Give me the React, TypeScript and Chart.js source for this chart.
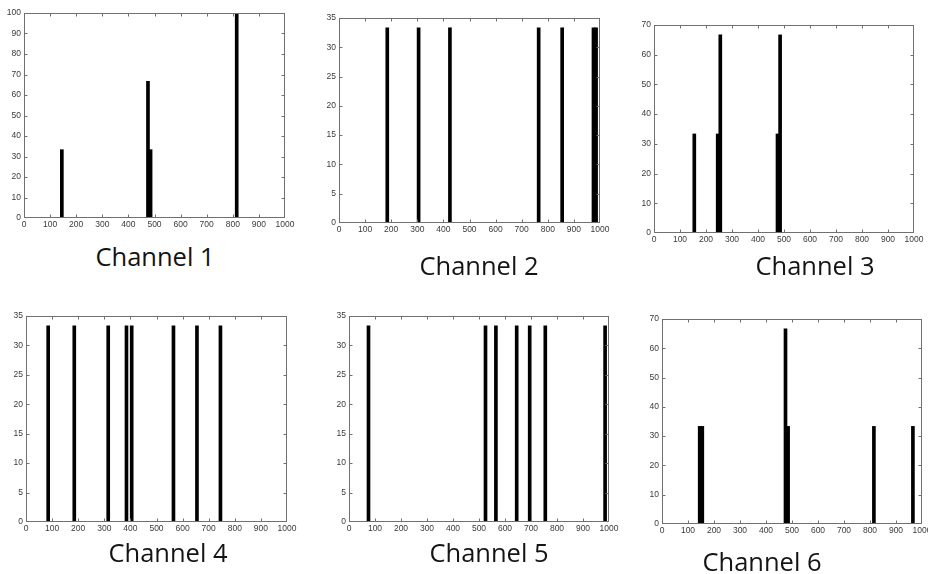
import React, { useEffect, useRef } from "react";
import { Chart, registerables } from "chart.js";

Chart.register(...registerables);

// ---- data (bin centres on a 0..1000 axis, bar heights in %) ----
const xTickMin = 0;
const xTickMax = 1000;
const xTickStep = 100;

const ch1X = [145, 475, 485, 815];
const ch1Y = [33.33, 66.67, 33.33, 100];

const ch2X = [185, 305, 425, 765, 855, 975, 985];
const ch2Y = [33.33, 33.33, 33.33, 33.33, 33.33, 33.33, 33.33];

const ch3X = [155, 245, 255, 475, 485];
const ch3Y = [33.33, 33.33, 66.67, 33.33, 66.67];

const ch4X = [85, 185, 315, 385, 405, 565, 655, 745];
const ch4Y = [33.33, 33.33, 33.33, 33.33, 33.33, 33.33, 33.33, 33.33];

const ch5X = [75, 525, 565, 645, 695, 755, 985];
const ch5Y = [33.33, 33.33, 33.33, 33.33, 33.33, 33.33, 33.33];

const ch6X = [145, 155, 475, 485, 815, 965];
const ch6Y = [33.33, 33.33, 66.67, 33.33, 33.33, 33.33];

const yMaxes = [100, 35, 70, 35, 35, 70];
const ySteps = [10, 5, 10, 5, 5, 10];
const captions = ["Channel 1", "Channel 2", "Channel 3", "Channel 4", "Channel 5", "Channel 6"];

// ---- layout (plot area rectangles and caption centres) ----
const plotRects = [
  { l: 24, t: 13, r: 285, b: 218 },
  { l: 339, t: 18, r: 600, b: 223 },
  { l: 654, t: 25, r: 914, b: 233 },
  { l: 26, t: 316, r: 287, b: 522 },
  { l: 349, t: 316, r: 609, b: 522 },
  { l: 662, t: 319, r: 922, b: 524 },
];
const captionPos = [
  { x: 155, y: 257 },
  { x: 479, y: 266 },
  { x: 815, y: 266 },
  { x: 168, y: 553 },
  { x: 489, y: 553 },
  { x: 762, y: 562 },
];

const PAD_L = 30;
const PAD_T = 8;
const PAD_R = 16;
const PAD_B = 16;

const tickFont = { family: "'Liberation Sans', Arial, sans-serif", size: 8.5 };
const tickColor = "#3a3a3a";
const boxColor = "#707070";

const boxPlugin = {
  id: "matlabBox",
  afterDatasetsDraw(chart: any) {
    const { ctx, chartArea } = chart;
    const { left, right, top, bottom } = chartArea;
    const sx = chart.scales.x;
    const sy = chart.scales.y;
    const L = Math.round(left) + 0.5;
    const R = Math.round(right) - 0.5;
    const T = Math.round(top) + 0.5;
    const B = Math.round(bottom) - 0.5;
    ctx.save();
    ctx.strokeStyle = boxColor;
    ctx.lineWidth = 1;
    ctx.strokeRect(L, T, R - L, B - T);
    ctx.beginPath();
    const tl = 3;
    sx.ticks.forEach((t: any) => {
      const px = Math.round(sx.getPixelForValue(t.value)) + 0.5;
      if (px <= L + 1 || px >= R - 1) return;
      ctx.moveTo(px, B);
      ctx.lineTo(px, B - tl);
      ctx.moveTo(px, T);
      ctx.lineTo(px, T + tl);
    });
    sy.ticks.forEach((t: any) => {
      const py = Math.round(sy.getPixelForValue(t.value)) + 0.5;
      if (py <= T + 1 || py >= B - 1) return;
      ctx.moveTo(L, py);
      ctx.lineTo(L + tl, py);
      ctx.moveTo(R, py);
      ctx.lineTo(R - tl, py);
    });
    ctx.stroke();
    ctx.restore();
  },
};

const seriesX = [ch1X, ch2X, ch3X, ch4X, ch5X, ch6X];
const seriesY = [ch1Y, ch2Y, ch3Y, ch4Y, ch5Y, ch6Y];

function Panel({ idx }: { idx: number }) {
  const ref = useRef<HTMLCanvasElement | null>(null);
  const rect = plotRects[idx];
  const w = rect.r - rect.l + PAD_L + PAD_R;
  const h = rect.b - rect.t + PAD_T + PAD_B;

  useEffect(() => {
    if (!ref.current) return;
    const xs = seriesX[idx];
    const ys = seriesY[idx];
    const chart = new Chart(ref.current, {
      type: "bar",
      data: {
        datasets: [
          {
            data: xs.map((x, i) => ({ x, y: ys[i] })),
            backgroundColor: "#000000",
            borderWidth: 0,
            barThickness: 3,
          } as any,
        ],
      },
      options: {
        animation: false,
        responsive: false,
        maintainAspectRatio: false,
        devicePixelRatio: 1,
        layout: { padding: { left: 0, top: PAD_T, right: PAD_R, bottom: 0 } },
        plugins: { legend: { display: false }, tooltip: { enabled: false } },
        scales: {
          x: {
            type: "linear",
            min: xTickMin,
            max: xTickMax,
            offset: false,
            grid: { display: false, drawTicks: false, offset: false },
            border: { display: false },
            ticks: {
              stepSize: xTickStep,
              font: tickFont,
              color: tickColor,
              padding: 2,
              maxRotation: 0,
              autoSkip: false,
              callback: (v: any) => String(v),
            },
            afterFit(s: any) {
              s.height = PAD_B;
              s.paddingLeft = 0;
              s.paddingRight = 0;
            },
          },
          y: {
            type: "linear",
            min: 0,
            max: yMaxes[idx],
            grid: { display: false, drawTicks: false },
            border: { display: false },
            ticks: {
              stepSize: ySteps[idx],
              font: tickFont,
              color: tickColor,
              padding: 3,
              autoSkip: false,
              callback: (v: any) => String(v),
            },
            afterFit(s: any) {
              s.width = PAD_L;
              s.paddingTop = 0;
              s.paddingBottom = 0;
            },
          },
        },
      } as any,
      plugins: [boxPlugin],
    });
    return () => chart.destroy();
  }, [idx]);

  return (
    <canvas
      ref={ref}
      width={w}
      height={h}
      style={{
        position: "absolute",
        left: rect.l - PAD_L,
        top: rect.t - PAD_T,
        width: w,
        height: h,
      }}
    />
  );
}

export default function App() {
  return (
    <div
      style={{
        position: "absolute",
        left: 0,
        top: 0,
        width: 928,
        height: 574,
        overflow: "hidden",
        background: "#ffffff",
      }}
    >
      {plotRects.map((_, i) => (
        <Panel key={i} idx={i} />
      ))}
      {captions.map((c, i) => (
        <div
          key={"c" + i}
          style={{
            position: "absolute",
            left: captionPos[i].x - 100,
            top: captionPos[i].y - 18,
            width: 200,
            textAlign: "center",
            fontFamily: "'Open Sans', 'Noto Sans', sans-serif",
            fontSize: 25.5,
            color: "#141414",
            whiteSpace: "nowrap",
          }}
        >
          {c}
        </div>
      ))}
    </div>
  );
}
